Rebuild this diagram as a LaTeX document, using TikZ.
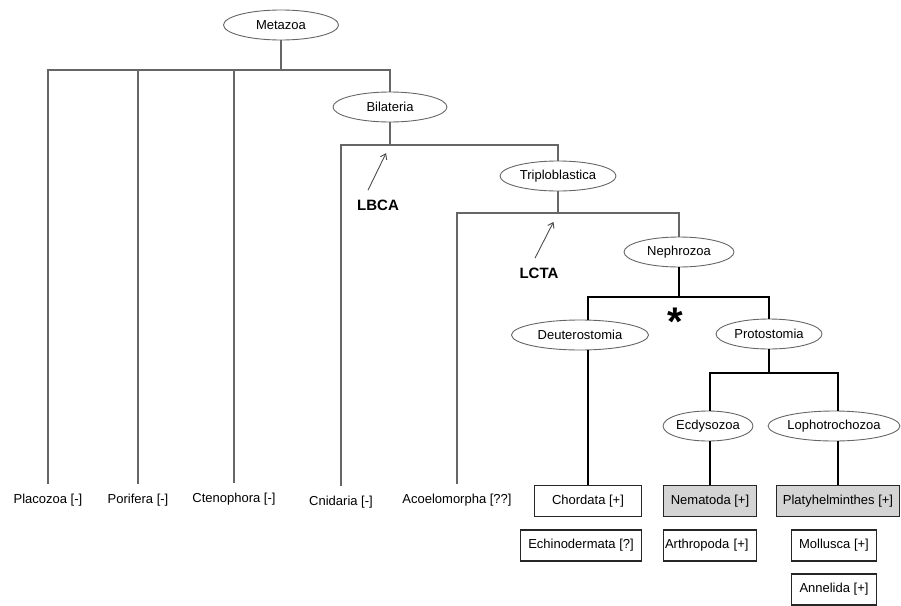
\documentclass[tikz,border=0pt]{standalone}
\usepackage{fontspec}
\setmainfont{Liberation Sans}
\usetikzlibrary{shapes.geometric,arrows.meta}
\begin{document}
\begin{tikzpicture}[x=1pt,y=-1pt,
  taxon/.style={ellipse,draw=black!60,line width=0.9pt,inner sep=0pt,minimum height=30pt,font=\fontsize{13}{15}\selectfont},
  leafname/.style={inner sep=2pt,font=\fontsize{13}{15}\selectfont},
  phylum/.style={rectangle,draw=black!85,line width=1.4pt,inner sep=0pt,minimum height=31pt,font=\fontsize{13}{15}\selectfont},
  grayphylum/.style={phylum,fill=black!17},
  thinedge/.style={draw=black!60,line width=1.1pt},
  thickedge/.style={draw=black,line width=2.4pt},
  marker/.style={font=\fontsize{15}{18}\selectfont\bfseries},
  pointer/.style={-{Straight Barb[length=5pt,width=7pt]},draw=black!70,line width=0.9pt}
]
\useasboundingbox (0,0) rectangle (901,605);
% clade ellipses
\node[taxon,minimum width=115pt] (metazoa) at (281,25) {Metazoa};
\node[taxon,minimum width=114pt] (bilateria) at (390,107) {Bilateria};
\node[taxon,minimum width=116pt] (triplo) at (558,176) {Triploblastica};
\node[taxon,minimum width=110pt] (nephro) at (679,252) {Nephrozoa};
\node[taxon,minimum width=137pt] (deutero) at (580,335) {Deuterostomia};
\node[taxon,minimum width=106pt] (proto) at (769,334) {Protostomia};
\node[taxon,minimum width=89pt] (ecdy) at (708,426) {Ecdysozoa};
\node[taxon,minimum width=131pt] (lopho) at (834,426) {Lophotrochozoa};
% leaf labels
\node[leafname] (placozoa) at (48,500) {Placozoa [-]};
\node[leafname] (porifera) at (138,500) {Porifera [-]};
\node[leafname] (cteno) at (234,499) {Ctenophora [-]};
\node[leafname] (cnid) at (341,502) {Cnidaria [-]};
\node[leafname] (acoelo) at (457,500) {Acoelomorpha [??]};
% phylum boxes
\node[phylum,minimum width=107pt] (chordata) at (588,501) {Chordata [+]};
\node[grayphylum,minimum width=93pt] (nematoda) at (710,501) {Nematoda [+]};
\node[grayphylum,minimum width=123pt] (platy) at (838,501) {Platyhelminthes [+]};
\node[phylum,minimum width=121pt] (echino) at (581,545.5) {Echinodermata [?]};
\node[phylum,text width=90pt,align=left,inner xsep=1.5pt] (arthro) at (710,545.5) {Arthropoda [+]};
\node[phylum,minimum width=85pt] (mollusca) at (834,545.5) {Mollusca [+]};
\node[phylum,minimum width=85pt] (annelida) at (834,589.5) {Annelida [+]};
% junctions
\coordinate (j0) at (281,70);
\coordinate (j1) at (390,145);
\coordinate (j2) at (558,213);
\coordinate (j3) at (679,297);
\coordinate (j4) at (769,373);
% thin edges
\draw[thinedge] (metazoa) -- (j0);
\draw[thinedge,shorten <=8pt] (placozoa.north) |- (j0) -| (bilateria.north);
\draw[thinedge,shorten <=8pt] (porifera.north) -- (porifera.north |- j0);
\draw[thinedge,shorten <=8pt] (cteno.north) -- (cteno.north |- j0);
\draw[thinedge] (bilateria) -- (j1);
\draw[thinedge,shorten <=8pt] (cnid.north) |- (j1) -| (triplo.north);
\draw[thinedge] (triplo) -- (j2);
\draw[thinedge,shorten <=8pt] (acoelo.north) |- (j2) -| (nephro.north);
% thick edges
\draw[thickedge] (nephro) -- (j3);
\draw[thickedge] (deutero.north -| chordata) |- (j3) -| (proto.north);
\draw[thickedge] (deutero.south -| chordata) -- (chordata.north);
\draw[thickedge] (proto) -- (j4);
\draw[thickedge] (ecdy.north -| nematoda) |- (j4) -| (platy.north |- lopho.north);
\draw[thickedge] (ecdy.south -| nematoda) -- (nematoda.north);
\draw[thickedge] (lopho.south -| platy) -- (platy.north);
% ancestor markers
\node[marker] (lbca) at (378,205) {LBCA};
\draw[pointer,shorten >=9pt] ([xshift=-10pt,yshift=6pt]lbca.north) -- (j1);
\node[marker] (lcta) at (539,273) {LCTA};
\draw[pointer,shorten >=10pt] ([xshift=-4pt,yshift=6pt]lcta.north) -- (j2);
\node[anchor=base,font=\fontsize{40}{40}\selectfont\bfseries] (star) at (675,335) {*};
\end{tikzpicture}
\end{document}
